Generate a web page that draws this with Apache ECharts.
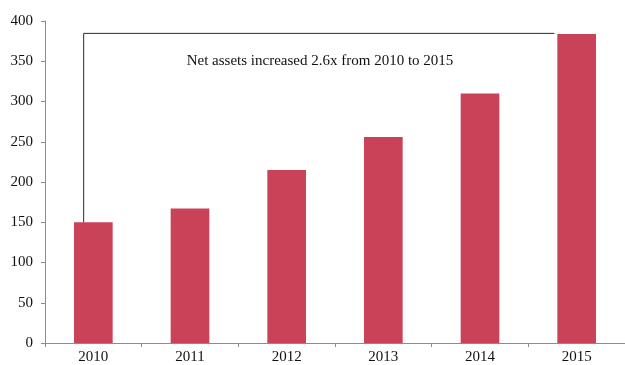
<!DOCTYPE html>
<html>
<head>
<meta charset="utf-8">
<script src="https://cdn.jsdelivr.net/npm/echarts@6/dist/echarts.min.js"></script>
<style>
  html, body { margin: 0; padding: 0; background: #fff; }
  #chart { width: 625px; height: 365px; }
</style>
</head>
<body>
<div id="chart"></div>
<script>
// Net assets by year
const years = ['2010', '2011', '2012', '2013', '2014', '2015'];
const netAssets = [150, 167, 215, 256, 310, 384];
const yTicks = [0, 50, 100, 150, 200, 250, 300, 350, 400];
const note = 'Net assets increased 2.6x from 2010 to 2015';

const serif = '"Liberation Serif", "Times New Roman", serif';
const chart = echarts.init(document.getElementById('chart'), null, { renderer: 'canvas' });

const first = 0, last = years.length - 1;

chart.setOption({
  animation: false,
  backgroundColor: '#ffffff',
  grid: { left: 45, top: 21, width: 584, height: 322, containLabel: false },
  xAxis: {
    type: 'category',
    data: years,
    boundaryGap: true,
    axisLine: { lineStyle: { color: '#8c8c8c', width: 1 } },
    axisTick: { show: true, length: 4, lineStyle: { color: '#8c8c8c' } },
    axisLabel: { color: '#111111', fontFamily: serif, fontSize: 15, margin: 7 },
    splitLine: { show: false }
  },
  yAxis: {
    type: 'value',
    min: yTicks[0],
    max: yTicks[yTicks.length - 1],
    interval: yTicks[1] - yTicks[0],
    axisLine: { show: true, lineStyle: { color: '#8c8c8c', width: 1 } },
    axisTick: { show: true, length: 4, lineStyle: { color: '#8c8c8c' } },
    axisLabel: { color: '#111111', fontFamily: serif, fontSize: 15, margin: 12 },
    splitLine: { show: false }
  },
  series: [
    {
      type: 'bar',
      data: netAssets,
      barWidth: '40%',
      itemStyle: { color: '#c94258' },
      z: 2
    },
    {
      // bracket connecting the first and last bars, with the growth note
      type: 'custom',
      data: [[first, netAssets[first], last, netAssets[last]]],
      z: 3,
      silent: true,
      renderItem: function (params, api) {
        const band = api.size([1, 0])[0];
        const start = api.coord([api.value(0), api.value(1)]);
        const end = api.coord([api.value(2), api.value(3)]);
        const x0 = start[0] - band * 0.1;
        const x1 = end[0] - band * 0.2 - 3;
        const yTop = end[1] - 0.5;
        return {
          type: 'group',
          children: [
            {
              type: 'polyline',
              shape: { points: [[x0, start[1]], [x0, yTop], [x1, yTop]] },
              style: { stroke: '#2b2b2b', lineWidth: 1, fill: null }
            },
            {
              type: 'text',
              style: {
                text: note,
                x: (x0 + x1) / 2 + 1,
                y: yTop + 28,
                textAlign: 'center',
                textVerticalAlign: 'middle',
                font: '15px ' + serif,
                fill: '#111111'
              }
            }
          ]
        };
      }
    }
  ]
});
</script>
</body>
</html>
